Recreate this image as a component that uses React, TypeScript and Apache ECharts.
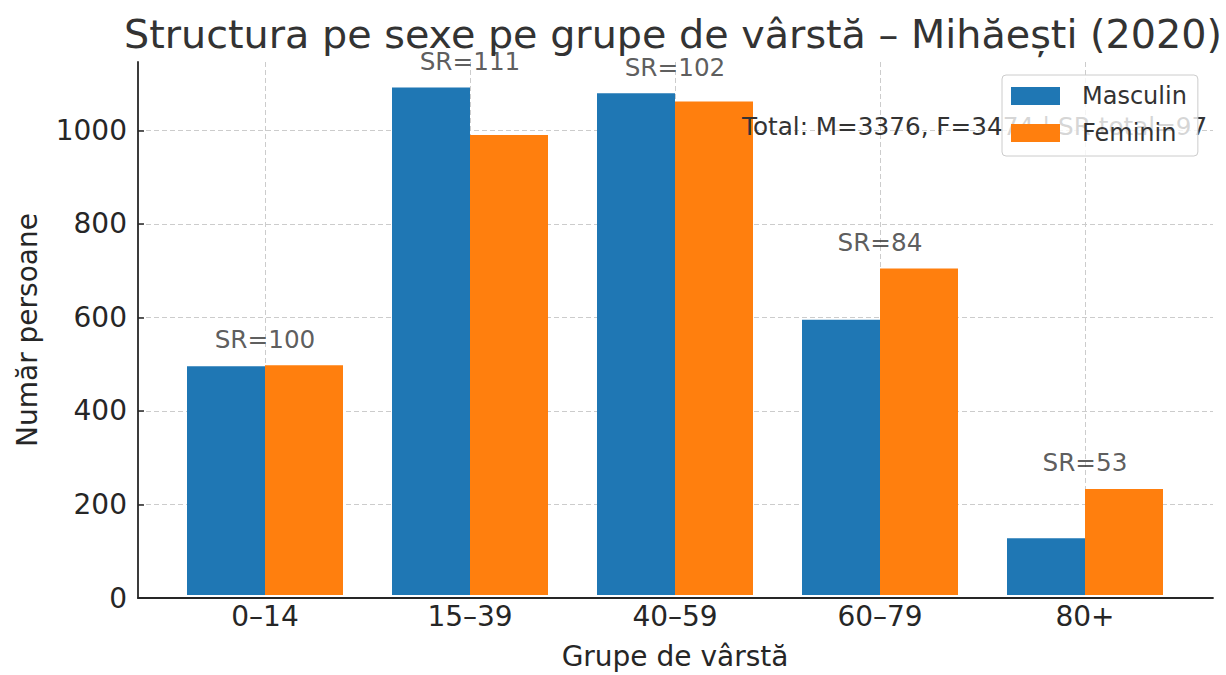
import React, { useEffect, useRef } from "react";
import * as echarts from "echarts";

const categories = ["0–14", "15–39", "40–59", "60–79", "80+"];
const masculin = [492, 1091, 1079, 592, 122];
const feminin = [494, 989, 1061, 702, 228];
const srLabels = [100, 111, 102, 84, 53];
const yTicks = [0, 200, 400, 600, 800, 1000];

const FONT = "DejaVu Sans";
const TXT = "#333333";
const AX = "#262626";
const GRIDC = "#cccccc";

export default function App() {
  const ref = useRef<HTMLDivElement>(null);
  useEffect(() => {
    if (!ref.current) return;
    const chart = echarts.init(ref.current, undefined, { renderer: "svg" });
    const maxVal = Math.max(...masculin, ...feminin);
    const yMax = Math.round(maxVal * 1.05);
    const totM = masculin.reduce((a, b) => a + b, 0);
    const totF = feminin.reduce((a, b) => a + b, 0);
    const srTotal = Math.round((totM / totF) * 100);
    const tops = masculin.map((m, i) => Math.max(m, feminin[i]));

    chart.setOption({
      animation: false,
      backgroundColor: "#ffffff",
      textStyle: { fontFamily: FONT },
      grid: [
        { left: 265, right: 141, top: 62, bottom: 77 },
        { left: 138, right: 13, top: 62, bottom: 77 },
      ],
      xAxis: [
        {
          type: "category",
          gridIndex: 0,
          data: categories,
          boundaryGap: false,
          axisLine: { show: false },
          axisTick: { show: true, inside: true, length: 6, lineStyle: { color: AX, width: 1.5 } },
          axisLabel: { fontSize: 28, color: AX, margin: 7, fontFamily: FONT },
          splitLine: { show: true, lineStyle: { color: GRIDC, type: [5, 3], width: 1 } },
          name: "Grupe de vârstă",
          nameLocation: "middle",
          nameGap: 47,
          nameTextStyle: { fontSize: 28, color: AX, fontFamily: FONT },
        },
        {
          type: "value",
          gridIndex: 1,
          min: 0,
          max: 1,
          axisLine: { show: true, lineStyle: { color: AX, width: 1.8 } },
          axisTick: { show: false },
          axisLabel: { show: false },
          splitLine: { show: false },
        },
      ],
      yAxis: [
        { type: "value", gridIndex: 0, min: 0, max: yMax, show: false, splitLine: { show: false } },
        {
          type: "value",
          gridIndex: 1,
          min: 0,
          max: yMax,
          interval: 200,
          axisLine: { show: true, lineStyle: { color: AX, width: 1.8 } },
          axisTick: { show: true, inside: true, length: 6, customValues: yTicks, lineStyle: { color: AX, width: 1.5 } },
          axisLabel: {
            fontSize: 28,
            color: AX,
            margin: 11,
            customValues: yTicks,
            fontFamily: FONT,
            formatter: (v: number) => String(v),
          },
          splitLine: { show: true, showMinLine: false, lineStyle: { color: GRIDC, type: [5, 3], width: 1 } },
          name: "Număr persoane",
          nameLocation: "middle",
          nameGap: 97,
          nameTextStyle: { fontSize: 28, color: AX, fontFamily: FONT },
        },
      ],
      legend: {
        data: ["Masculin", "Feminin"],
        orient: "vertical",
        left: 1002,
        top: 75,
        z: 10,
        itemWidth: 49,
        itemHeight: 18,
        itemGap: 13,
        icon: "rect",
        padding: [9, 11, 11, 9],
        backgroundColor: "rgba(255,255,255,0.8)",
        borderColor: "#cccccc",
        borderWidth: 1,
        borderRadius: 4,
        textStyle: { fontSize: 24, color: TXT, fontFamily: FONT, padding: [0, 0, 0, 17], lineHeight: 24 },
      },
      graphic: [
        {
          type: "text",
          x: 673,
          y: 34,
          z: 3,
          style: {
            text: "Structura pe sexe pe grupe de vârstă – Mihăești (2020)",
            fontSize: 39.7,
            fontFamily: FONT,
            fill: TXT,
            textAlign: "center",
            textVerticalAlign: "middle",
          },
        },
        {
          type: "text",
          x: 742,
          y: 126,
          z: 3,
          style: {
            text: `Total: M=${totM}, F=${totF} | SR total=${srTotal}`,
            fontSize: 24.7,
            fontFamily: FONT,
            fill: TXT,
            textAlign: "left",
            textVerticalAlign: "middle",
          },
        },
      ],
      series: [
        {
          name: "Masculin",
          type: "bar",
          xAxisIndex: 0,
          yAxisIndex: 0,
          data: masculin,
          barWidth: 78,
          barGap: "0%",
          clip: false,
          itemStyle: { color: "#1f77b4" },
        },
        {
          name: "Feminin",
          type: "bar",
          xAxisIndex: 0,
          yAxisIndex: 0,
          data: feminin,
          barWidth: 78,
          barGap: "0%",
          clip: false,
          itemStyle: { color: "#ff7f0e" },
        },
        {
          name: "SR",
          type: "scatter",
          xAxisIndex: 0,
          yAxisIndex: 0,
          data: tops,
          symbolSize: 1,
          clip: false,
          itemStyle: { color: "rgba(0,0,0,0)" },
          label: {
            show: true,
            position: "top",
            distance: 13,
            fontSize: 24.7,
            color: TXT,
            fontFamily: FONT,
            formatter: (p: any) => `SR=${srLabels[p.dataIndex]}`,
          },
          z: 3,
        },
      ],
    });
    return () => chart.dispose();
  }, []);
  return <div ref={ref} style={{ width: 1226, height: 675, position: "absolute", left: 0, top: 0 }} />;
}
